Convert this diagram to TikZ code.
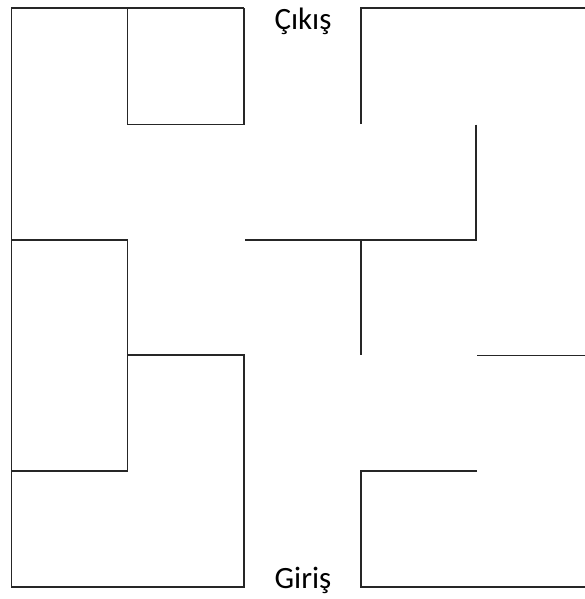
\documentclass[tikz,border=0pt]{standalone}
\usepackage{fontspec}
\setmainfont{Carlito}
\begin{document}
\begin{tikzpicture}[x=1pt,y=-1pt,wall/.style={draw=black!85,line width=1.9pt,line join=miter},
  lbl/.style={font=\fontsize{31}{36}\selectfont,inner sep=0pt,anchor=base}]
\useasboundingbox (0,0) rectangle (584,599);
% left outer wall
\draw[wall] (244,8) -- (11.5,8) -- (11.5,587) -- (244,587) -- (244,355) -- (127.5,355);
% top square
\draw[wall] (127.5,8) -- (127.5,124.5) -- (244,124.5) -- (244,8);
% left middle
\draw[wall] (11.5,240) -- (127.5,240) -- (127.5,471) -- (11.5,471);
% right top
\draw[wall] (361,124) -- (361,8) -- (586,8);
\draw[wall] (476,124.5) -- (476,240) -- (245,240);
\draw[wall] (361,240) -- (361,355);
\draw[wall] (477,355.5) -- (586,355.5);
\draw[wall] (477,471) -- (361,471) -- (361,587) -- (586,587);
\node[lbl] (exit) at (303,30) {Çıkış};
\node[lbl] (entry) at (303,588) {Giriş};
\end{tikzpicture}
\end{document}
